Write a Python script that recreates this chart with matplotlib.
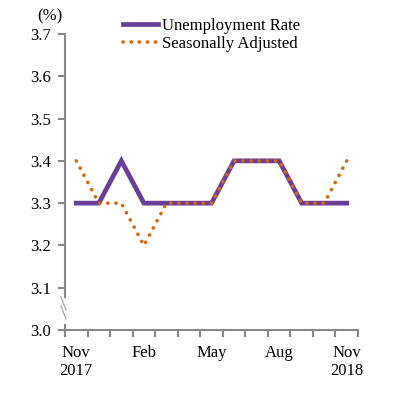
import matplotlib
matplotlib.use("Agg")
import matplotlib.pyplot as plt
from matplotlib.lines import Line2D
import numpy as np

months = ["Nov\n2017", "Dec", "Jan", "Feb", "Mar", "Apr", "May", "Jun", "Jul", "Aug", "Sep", "Oct", "Nov\n2018"]
unemployment = [3.3, 3.3, 3.4, 3.3, 3.3, 3.3, 3.3, 3.4, 3.4, 3.4, 3.3, 3.3, 3.3]
seasonal = [3.4, 3.3, 3.3, 3.2, 3.3, 3.3, 3.3, 3.4, 3.4, 3.4, 3.3, 3.3, 3.4]
label_idx = [0, 3, 6, 9, 12]
label_text = ["Nov\n2017", "Feb", "May", "Aug", "Nov\n2018"]
yticks = [3.0, 3.1, 3.2, 3.3, 3.4, 3.5, 3.6, 3.7]

plt.rcParams['font.family'] = ['Liberation Serif', 'DejaVu Serif']
FS = 12
purple = '#6A3D9A'
orange = '#D9680B'
gray = '#878787'

fig = plt.figure(figsize=(3.97, 3.97), dpi=100)
ax = fig.add_axes([65/397, 1-330/397, (358-65)/397, (330-34)/397])

x = np.arange(len(months))
ax.plot(x, unemployment, color=purple, lw=3.4, solid_joinstyle='miter', zorder=2,
        label='Unemployment Rate')
ax.plot(x, seasonal, color=orange, lw=2.6, linestyle=(0, (0.05, 2.2)),
        dash_capstyle='round', zorder=3, label='Seasonally Adjusted')

ax.set_xlim(-0.5, len(months) - 0.5)
ax.set_ylim(3.0, 3.7)
ax.set_yticks(yticks)
ax.set_yticklabels([f"{v:.1f}" for v in yticks], fontsize=FS)

ax.set_xticks(np.arange(-0.5, len(months), 1.0))
ax.set_xticklabels([])
ax.set_xticks(label_idx, minor=True)
ax.set_xticklabels(label_text, minor=True, fontsize=FS, linespacing=1.15)
ax.tick_params(axis='x', which='major', direction='out', length=5, width=1.5, color=gray)
ax.tick_params(axis='x', which='minor', length=0, pad=11)
ax.tick_params(axis='y', direction='out', length=5, width=1.5, color=gray, pad=5)

for s in ['top', 'right']:
    ax.spines[s].set_visible(False)
ax.spines['bottom'].set_color(gray)
ax.spines['bottom'].set_linewidth(1.5)
ax.spines['left'].set_visible(False)

# left axis with break
tr = ax.get_yaxis_transform()
ax.add_line(Line2D([0, 0], [3.0, 3.013], transform=tr, color=gray, lw=1.5, clip_on=False))
ax.add_line(Line2D([0, 0], [3.078, 3.7], transform=tr, color=gray, lw=1.5, clip_on=False))
# break marks (figure pixel coords)
for dy in [0, 9]:
    fig.add_artist(Line2D([61/397, 66/397], [1-(297+dy)/397, 1-(310+dy)/397],
                          transform=fig.transFigure, color='#A8A8A8', lw=0.9))

fig.text(37/397, 1-16/397, "(%)", fontsize=FS, ha='left', va='center')

ax.legend(loc='upper left', bbox_to_anchor=(123/397, 1-18/397), bbox_transform=fig.transFigure,
          frameon=False, fontsize=FS, handlelength=2.1, handletextpad=0.25,
          borderpad=0, borderaxespad=0, labelspacing=0.12)

fig.savefig("out.png", dpi=100)
